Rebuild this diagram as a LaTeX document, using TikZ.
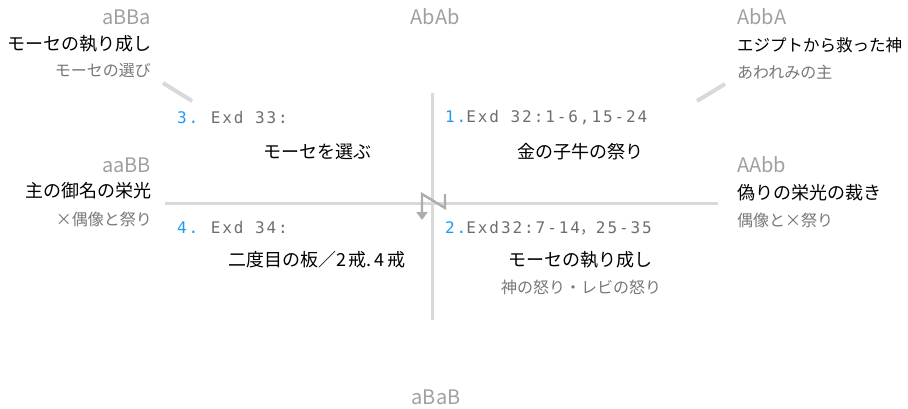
\documentclass[tikz,border=0pt]{standalone}
\usepackage{fontspec}
\setmainfont{Noto Sans CJK JP}
\newfontfamily\monof[LetterSpace=12]{DejaVu Sans Mono}
\newfontfamily\cjkf{Noto Sans CJK JP}
\usetikzlibrary{arrows.meta}
\definecolor{linegray}{HTML}{D9D9D9}
\definecolor{arrgray}{HTML}{ADADAD}
\definecolor{subgray}{HTML}{777777}
\definecolor{taggray}{HTML}{A0A0A0}
\definecolor{codegray}{HTML}{6E6E6E}
\definecolor{numblue}{HTML}{1E9BF0}
\tikzset{
  mainlbl/.style={font=\fontsize{18}{21}\selectfont, text=black, inner sep=0pt},
  sublbl/.style={font=\fontsize{16}{19}\selectfont, text=subgray, inner sep=0pt},
  taglbl/.style={font=\fontsize{20}{22}\selectfont, text=taggray, inner sep=0pt},
  codelbl/.style={font=\monof\fontsize{16}{18}\selectfont, text=codegray, inner sep=0pt, anchor=west},
  axisline/.style={draw=linegray, line width=3pt},
  pointer/.style={draw=linegray, line width=4pt},
  flow/.style={draw=arrgray, line width=2.4pt, -{Triangle[length=8pt,width=11pt]}},
}
\newcommand{\numb}[1]{\textcolor{numblue}{#1}}
\begin{document}
\begin{tikzpicture}[x=1pt,y=-1pt]
\useasboundingbox (0,0) rectangle (908,409);
% axes
\coordinate (hl) at (165,203); \coordinate (hr) at (718,203);
\coordinate (vt) at (432,93);  \coordinate (vb) at (432,320);
\draw[axisline] (hl) -- (hr);
\draw[axisline] (vt) -- (vb);
% pointers
\coordinate (tl1) at (163,83); \coordinate (tl2) at (192,101);
\coordinate (tr1) at (697,101); \coordinate (tr2) at (725,84);
\draw[pointer] (tl1) -- (tl2);
\draw[pointer] (tr1) -- (tr2);
% N-shaped reading order
\coordinate (n1) at (445,194); \coordinate (n2) at (445,208);
\coordinate (n3) at (422,194); \coordinate (n4) at (422,220);
\draw[flow] (n1) -- (n2) -- (n3) -- (n4);
% corner tags
\node[taglbl] (tAbAb) at (435,17) {AbAb};
\node[taglbl] (taBaB) at (436,397) {aBaB};
% top-left
\node[taglbl, anchor=east] (taBBa) at (151,17) {aBBa};
\node[mainlbl, anchor=east] (mTL) at (152,44) {モーセの執り成し};
\node[sublbl, anchor=east] (sTL) at (151,71) {モーセの選び};
% top-right
\node[taglbl, anchor=west] (tAbbA) at (737,17) {AbbA};
\node[mainlbl, anchor=west, font=\fontsize{16.5}{20}\selectfont] (mTR) at (737,45) {エジプトから救った神};
\node[sublbl, anchor=west] (sTR) at (737,72) {あわれみの主};
% middle-left
\node[taglbl, anchor=east] (taaBB) at (151,165) {aaBB};
\node[mainlbl, anchor=east] (mML) at (152,191) {主の御名の栄光};
\node[sublbl, anchor=east] (sML) at (152,219) {×偶像と祭り};
% middle-right
\node[taglbl, anchor=west] (tAAbb) at (737,165) {AAbb};
\node[mainlbl, anchor=west] (mMR) at (737,193) {偽りの栄光の裁き};
\node[sublbl, anchor=west] (sMR) at (737,220) {偶像と×祭り};
% quadrant 3 (top-left)
\node[codelbl] (c3) at (177,118) {\numb{3.}\hspace{-3pt} Exd 33:};
\node[mainlbl] (q3) at (317,152) {モーセを選ぶ};
% quadrant 1 (top-right)
\node[codelbl] (c1) at (445,118) {\numb{1.}Exd 32:1-6,15-24};
\node[mainlbl] (q1) at (580,152) {金の子牛の祭り};
% quadrant 4 (bottom-left)
\node[codelbl] (c4) at (177,228) {\numb{4.}\hspace{-3pt} Exd 34:};
\node[mainlbl] (q4) at (317,260) {二度目の板／2\,戒.\,4\,戒};
% quadrant 2 (bottom-right)
\node[codelbl] (c2) at (445,228) {\numb{2.}Exd32:7-14{\cjkf ，}25-35};
\node[mainlbl] (q2) at (580,260) {モーセの執り成し};
\node[sublbl] (s2) at (581,287) {神の怒り・レビの怒り};
\end{tikzpicture}
\end{document}
